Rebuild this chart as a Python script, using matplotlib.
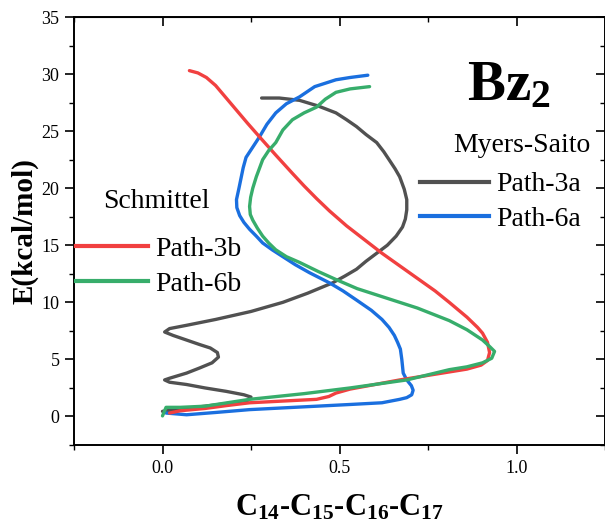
import matplotlib
matplotlib.use("Agg")
import matplotlib.pyplot as plt
from matplotlib.lines import Line2D
from matplotlib.ticker import MultipleLocator

plt.rcParams['font.family'] = ['Liberation Serif', 'DejaVu Serif']
plt.rcParams['mathtext.fontset'] = 'custom'
plt.rcParams['mathtext.rm'] = 'Liberation Serif:bold'
plt.rcParams['mathtext.it'] = 'Liberation Serif:bold:italic'
plt.rcParams['mathtext.bf'] = 'Liberation Serif:bold'

# Schmittel, Path-3b (red)
x_3b = [0.076, 0.10, 0.124, 0.15, 0.18, 0.21, 0.24, 0.274, 0.32, 0.367, 0.40, 0.435,
        0.472, 0.52, 0.57, 0.62, 0.67, 0.72, 0.77, 0.81, 0.86, 0.89, 0.904, 0.918,
        0.924, 0.918, 0.90, 0.86, 0.81, 0.74, 0.67, 0.60, 0.53, 0.49, 0.47, 0.435,
        0.34, 0.246, 0.18, 0.12, 0.05, 0.02]
e_3b = [30.3, 30.1, 29.7, 29.0, 27.9, 26.8, 25.7, 24.5, 22.9, 21.3, 20.2, 19.1,
        18.0, 16.7, 15.5, 14.3, 13.2, 12.1, 11.0, 10.0, 8.7, 7.8, 7.3, 6.5,
        5.6, 4.9, 4.5, 4.15, 3.9, 3.55, 3.2, 2.8, 2.4, 2.05, 1.75, 1.5,
        1.35, 1.2, 0.95, 0.7, 0.5, 0.3]

# Schmittel, Path-6b (green)
x_6b = [0.585, 0.53, 0.49, 0.46, 0.435, 0.40, 0.367, 0.34, 0.32, 0.30, 0.283, 0.265,
        0.255, 0.249, 0.246, 0.248, 0.255, 0.268, 0.283, 0.30, 0.32, 0.35, 0.387, 0.44,
        0.49, 0.55, 0.62, 0.72, 0.81, 0.86, 0.904, 0.925, 0.938, 0.93, 0.904, 0.86,
        0.81, 0.75, 0.69, 0.61, 0.53, 0.40, 0.246, 0.12, 0.05, 0.01, 0.0]
e_6b = [28.9, 28.7, 28.4, 27.8, 27.1, 26.6, 26.0, 25.1, 24.0, 23.3, 22.5, 21.0,
        20.0, 19.2, 18.4, 17.7, 17.2, 16.5, 15.8, 15.2, 14.6, 14.0, 13.5, 12.7,
        12.0, 11.2, 10.5, 9.5, 8.4, 7.6, 6.7, 6.1, 5.7, 5.1, 4.7, 4.35,
        4.1, 3.65, 3.2, 2.85, 2.5, 2.0, 1.5, 0.9, 0.8, 0.8, 0.05]

# Myers-Saito, Path-3a (gray)
x_3a = [0.28, 0.33, 0.387, 0.44, 0.49, 0.52, 0.548, 0.575, 0.605, 0.625, 0.64, 0.657,
        0.67, 0.683, 0.69, 0.69, 0.686, 0.678, 0.66, 0.635, 0.605, 0.575, 0.548, 0.515,
        0.48, 0.41, 0.34, 0.25, 0.15, 0.07, 0.02, 0.006, 0.03, 0.105, 0.135, 0.155,
        0.158, 0.14, 0.105, 0.068, 0.02, 0.006, 0.02, 0.068, 0.12, 0.18, 0.23, 0.25,
        0.24, 0.20, 0.12, 0.0]
e_3a = [27.9, 27.9, 27.7, 27.2, 26.6, 26.0, 25.4, 24.7, 24.0, 23.2, 22.5, 21.7,
        21.0, 19.9, 19.0, 18.1, 17.3, 16.6, 15.8, 15.0, 14.3, 13.6, 12.9, 12.3,
        11.7, 10.8, 10.0, 9.2, 8.5, 8.0, 7.7, 7.4, 7.1, 6.3, 6.0, 5.6,
        5.2, 4.7, 4.25, 3.8, 3.35, 3.2, 3.0, 2.8, 2.5, 2.2, 1.9, 1.7,
        1.4, 1.2, 0.9, 0.45]

# Myers-Saito, Path-6a (blue)
x_6a = [0.58, 0.53, 0.49, 0.43, 0.387, 0.35, 0.32, 0.295, 0.274, 0.255, 0.236, 0.228,
        0.216, 0.209, 0.210, 0.218, 0.23, 0.246, 0.265, 0.283, 0.31, 0.34, 0.375, 0.415,
        0.472, 0.51, 0.548, 0.59, 0.62, 0.64, 0.655, 0.664, 0.672, 0.676, 0.678, 0.68,
        0.69, 0.703, 0.708, 0.704, 0.69, 0.67, 0.62, 0.53, 0.435, 0.34, 0.246, 0.15,
        0.068, 0.01]
e_6a = [29.9, 29.7, 29.5, 28.9, 28.0, 27.4, 26.6, 25.6, 24.5, 23.6, 22.7, 21.8,
        20.0, 19.0, 18.3, 17.6, 17.0, 16.4, 15.8, 15.2, 14.6, 14.0, 13.3, 12.6,
        11.7, 11.0, 10.2, 9.3, 8.5, 7.8, 7.1, 6.5, 5.9, 5.0, 4.4, 3.8,
        3.2, 2.7, 2.3, 1.9, 1.65, 1.5, 1.2, 1.05, 0.9, 0.75, 0.6, 0.35,
        0.15, 0.3]

gray = '#515151'
red = '#F14040'
blue = '#1A6FDF'
green = '#37AD6B'
lw = 2.4

fig = plt.figure(figsize=(6.05, 5.27), dpi=100)
ax = fig.add_axes([74 / 605, 82 / 527, 531 / 605, 428 / 527])

style = dict(lw=lw, solid_joinstyle='round', solid_capstyle='round')
ax.plot(x_3a, e_3a, color=gray, zorder=2, **style)
ax.plot(x_6a, e_6a, color=blue, zorder=3, **style)
ax.plot(x_3b, e_3b, color=red, zorder=4, **style)
ax.plot(x_6b, e_6b, color=green, zorder=5, **style)

ax.set_xlim(-0.25, 1.25)
ax.set_ylim(-2.5, 35)
ax.xaxis.set_major_locator(MultipleLocator(0.5))
ax.xaxis.set_minor_locator(MultipleLocator(0.25))
ax.yaxis.set_major_locator(MultipleLocator(5))
ax.yaxis.set_minor_locator(MultipleLocator(2.5))
ax.set_xticks([0.0, 0.5, 1.0])
ax.set_xticklabels(['0.0', '0.5', '1.0'])

for s in ax.spines.values():
    s.set_linewidth(1.4)
ax.tick_params(which='major', direction='out', length=6.5, width=1.2, labelsize=13, pad=4)
ax.tick_params(which='minor', direction='out', length=3.5, width=1.0)

# mirrored ticks pointing inward on top and right
top = ax.secondary_xaxis('top')
top.set_xticks([0.0, 0.5, 1.0])
top.xaxis.set_minor_locator(MultipleLocator(0.25))
top.tick_params(which='major', direction='in', length=6.5, width=1.2, labeltop=False)
top.tick_params(which='minor', direction='in', length=3.5, width=1.0)
right = ax.secondary_yaxis('right')
right.yaxis.set_major_locator(MultipleLocator(5))
right.yaxis.set_minor_locator(MultipleLocator(2.5))
right.tick_params(which='major', direction='in', length=6.5, width=1.2, labelright=False)
right.tick_params(which='minor', direction='in', length=3.5, width=1.0)

ax.set_ylabel('E(kcal/mol)', fontsize=21, fontweight='bold', labelpad=2)
ax.set_xlabel('C$_{14}$-C$_{15}$-C$_{16}$-C$_{17}$', fontsize=22, fontweight='bold', labelpad=12)

fig.text(467 / 605, 1 - 100 / 527, 'Bz$_2$', fontsize=41, fontweight='bold', va='baseline')

fig.text(103 / 605, 1 - 202 / 527, 'Schmittel', fontsize=20, va='center')
fig.text(590 / 605, 1 - 145 / 527, 'Myers-Saito', fontsize=20, va='center', ha='right')

leg1 = fig.legend(handles=[Line2D([], [], color=red, lw=3), Line2D([], [], color=green, lw=3)],
                  labels=['Path-3b', 'Path-6b'], loc='center left',
                  bbox_to_anchor=(76 / 605, 1 - 266.5 / 527), frameon=False, fontsize=20,
                  handlelength=2.6, handletextpad=0.25, borderpad=0, borderaxespad=0,
                  labelspacing=0.33)
leg2 = fig.legend(handles=[Line2D([], [], color=gray, lw=3), Line2D([], [], color=blue, lw=3)],
                  labels=['Path-3a', 'Path-6a'], loc='center left',
                  bbox_to_anchor=(420 / 605, 1 - 202 / 527), frameon=False, fontsize=20,
                  handlelength=2.5, handletextpad=0.25, borderpad=0, borderaxespad=0,
                  labelspacing=0.33)

fig.savefig('out.png', dpi=100)
